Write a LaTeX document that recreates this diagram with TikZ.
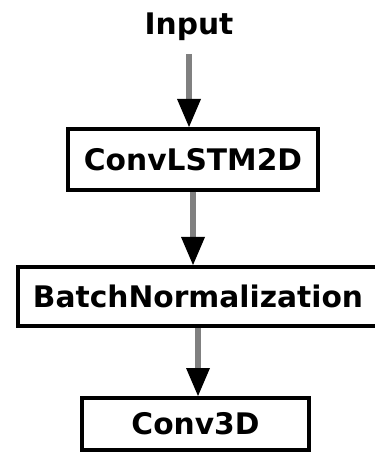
\documentclass[tikz,border=0pt]{standalone}
\usepackage{fontspec}
\setmainfont{DejaVu Sans}
\usetikzlibrary{arrows.meta}
\tikzstyle{every node}=[font=\bfseries\fontsize{14.85}{17}\selectfont,inner sep=0pt]
\tikzstyle{layer}=[draw=black,line width=2pt]
\tikzstyle{flow}=[draw=gray,line width=3pt,-{Triangle[length=14pt,width=12pt,color=black,fill=black,line width=0pt]}]

\begin{document}
\begin{tikzpicture}[x=0.5pt,y=-0.5pt]
    \useasboundingbox (0,0) rectangle (374,453);
    \node (input) at (189,26.5) {Input};
    \node [layer,minimum width=125pt,minimum height=30.5pt] (convlstm) at (193,159.5) {ConvLSTM2D};
    \node [layer,minimum width=180pt,minimum height=29.5pt] (batchnorm) at (198,296.5) {BatchNormalization};
    \node [layer,minimum width=113.5pt,minimum height=26pt] (conv3d) at (195.5,424) {Conv3D};
    % connectors
    \draw [flow,shorten <=6.5pt] (input.south) -- (input.south |- convlstm.north);
    \draw [flow] (convlstm.south) -- (convlstm.south |- batchnorm.north);
    \draw [flow] (batchnorm.south) -- (batchnorm.south |- conv3d.north);
\end{tikzpicture}
\end{document}
